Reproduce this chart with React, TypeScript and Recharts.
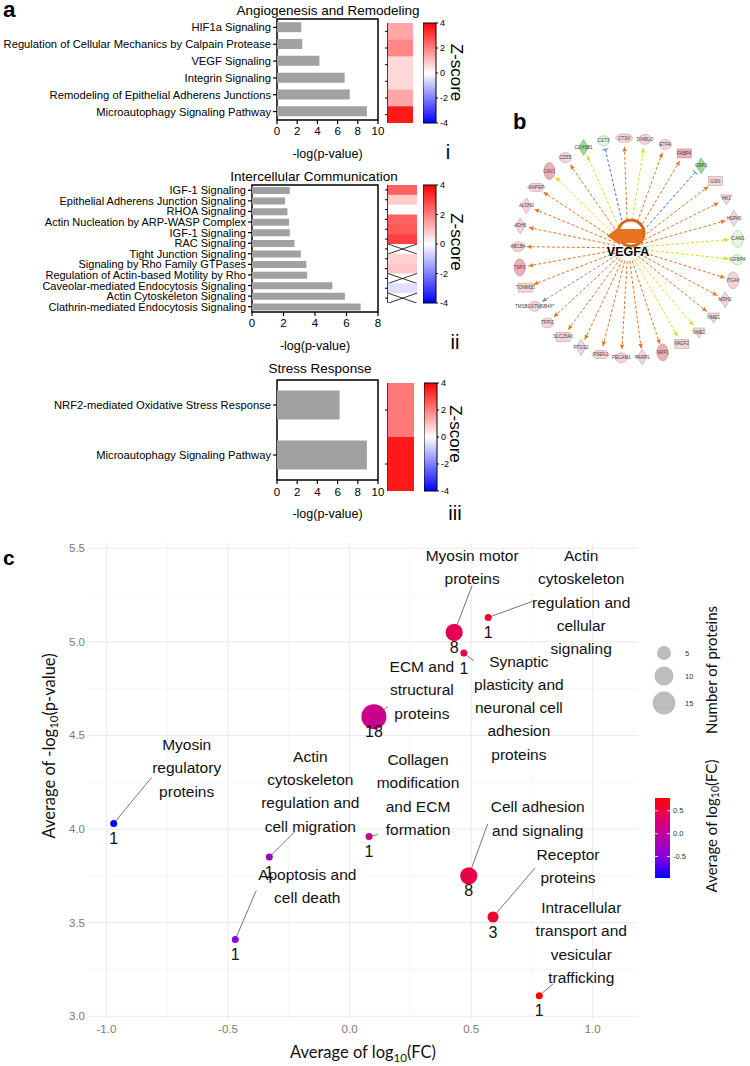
import React from 'react';
import { BarChart, Bar, XAxis, YAxis, ReferenceArea, ReferenceLine, ScatterChart, Scatter } from 'recharts';

const FONT = '"Liberation Sans", Arial, sans-serif';
const TITLE_FONT = 'Lato, "Open Sans", sans-serif';

// ---- panel a (i) angiogenesis
const angioPathways = [
  'HIF1a Signaling',
  'Regulation of Cellular Mechanics by Calpain Protease',
  'VEGF Signaling',
  'Integrin Signaling',
  'Remodeling of Epithelial Adherens Junctions',
  'Microautophagy Signaling Pathway',
];
const angioLogP = [2.4, 2.5, 4.2, 6.7, 7.2, 8.9];
const angioZ = [1.4, 1.9, 0.6, 0.6, 1.4, 3.6];

// ---- panel a (ii) intercellular communication
const commPathways = [
  'IGF-1 Signaling',
  'Epithelial Adherens Junction Signaling',
  'RHOA Signaling',
  'Actin Nucleation by ARP-WASP Complex',
  'IGF-1 Signaling',
  'RAC Signaling',
  'Tight Junction Signaling',
  'Signaling by Rho Family GTPases',
  'Regulation of Actin-based Motility by Rho',
  'Caveolar-mediated Endocytosis Signaling',
  'Actin Cytoskeleton Signaling',
  'Clathrin-mediated Endocytosis Signaling',
];
const commLogP = [2.4, 2.1, 2.25, 2.35, 2.4, 2.7, 3.1, 3.45, 3.5, 5.1, 5.9, 6.9];
const commZ = [2.5, 0.8, 0, 2.5, 2.6, 3.0, null, 0.7, 0.9, null, -0.5, null];

// ---- panel a (iii) stress response
const stressPathways = ['NRF2-mediated Oxidative Stress Response', 'Microautophagy Signaling Pathway'];
const stressLogP = [6.2, 8.9];
const stressZ = [2.1, 3.6];

const zTicks = [-4, -2, 0, 2, 4];

// ---- panel b network
const vegfaTargets = [
  'CTSV', 'DIABLO', 'ETFA', 'FABP4', 'GBP1', 'GSN', 'HK1', 'HSPA5', 'ICAM1', 'IGFBP4', 'ITGAV',
  'MDH2', 'NME1', 'NME2', 'NR2F2', 'NRP1', 'PARP1', 'PECAM1', 'PSEN1', 'PTGS2', 'SLC25A6',
  'TFPI2', 'TMSB10/TMSB4X*', 'TOMM20', 'TSPO', 'ABCB4', 'ADH5', 'ALDH2', 'ANPEP', 'CAV1',
  'CD55', 'COX6B1', 'CST3',
];
const targetTone = [
  'up', 'up', 'up', 'up2', 'down2', 'up', 'up', 'up', 'down', 'down', 'up',
  'up', 'up', 'up', 'up', 'up2', 'up', 'up', 'up', 'up', 'up',
  'up', 'up', 'up', 'up2', 'up', 'up', 'up', 'up', 'up2',
  'up', 'down2', 'down',
];
const targetShape = [
  'hex', 'ellipse', 'ellipse', 'rect', 'diamond', 'rect', 'tri', 'diamond', 'tall', 'ellipse', 'tall',
  'diamond', 'tri', 'tri', 'rect', 'tall', 'diamond', 'ellipse', 'hex', 'diamond', 'rect',
  'ellipse', 'ellipse', 'rect', 'tall', 'ellipse', 'diamond', 'diamond', 'hex', 'tall',
  'ellipse', 'diamond', 'ellipse',
];
const targetEdge = [
  'act', 'neu', 'act', 'act', 'inh', 'act', 'act', 'act', 'neu', 'neu', 'act',
  'act', 'act', 'neu', 'neu', 'act', 'act', 'act', 'act', 'act', 'act',
  'act', 'unk', 'act', 'act', 'act', 'act', 'act', 'act', 'neu',
  'act', 'neu', 'inh',
];

// ---- panel c
const groups = [
  'Myosin regulatory proteins',
  'Apoptosis and cell death',
  'Actin cytoskeleton regulation and cell migration',
  'Collagen modification and ECM formation',
  'ECM and structural proteins',
  'Myosin motor proteins',
  'Actin cytoskeleton regulation and cellular signaling',
  'Synaptic plasticity and neuronal cell adhesion proteins',
  'Cell adhesion and signaling',
  'Receptor proteins',
  'Intracellular transport and vesicular trafficking',
];
const groupLogFC = [-0.97, -0.47, -0.33, 0.08, 0.1, 0.43, 0.57, 0.47, 0.49, 0.59, 0.78];
const groupLogP = [4.03, 3.41, 3.85, 3.96, 4.6, 5.05, 5.13, 4.94, 3.75, 3.53, 3.11];
const groupCount = [1, 1, 1, 1, 18, 8, 1, 1, 8, 3, 1];
const fcTicks = [-1, -0.5, 0, 0.5, 1];
const fcMinor = [-0.75, -0.25, 0.25, 0.75];
const pTicks = [3, 3.5, 4, 4.5, 5, 5.5];
const pMinor = [3.25, 3.75, 4.25, 4.75, 5.25];
const sizeLegend = [5, 10, 15];
const colorLegend = [0.5, 0, -0.5];

// label placement (pixels relative to the point)
const labelLayout = [
  { lines: ['Myosin', 'regulatory', 'proteins'], dx: 73, dy: -79, ex: 38, ey: -46 },
  { lines: ['Apoptosis and', 'cell death'], dx: 72, dy: -65, ex: 21, ey: -49 },
  { lines: ['Actin', 'cytoskeleton', 'regulation and', 'cell migration'], dx: 41, dy: -101, ex: 25, ey: -25 },
  { lines: ['Collagen', 'modification', 'and ECM', 'formation'], dx: 49, dy: -77, ex: 9, ey: -2 },
  { lines: ['ECM and', 'structural', 'proteins'], dx: 48, dy: -50, ex: 14, ey: -10 },
  { lines: ['Myosin motor', 'proteins'], dx: 18, dy: -77, ex: 18, ey: -47 },
  { lines: ['Actin', 'cytoskeleton', 'regulation and', 'cellular', 'signaling'], dx: 93, dy: -62, ex: 44, ey: -16 },
  { lines: ['Synaptic', 'plasticity and', 'neuronal cell', 'adhesion', 'proteins'], dx: 55, dy: 8, ex: 10, ey: 8 },
  { lines: ['Cell adhesion', 'and signaling'], dx: 69, dy: -69, ex: 19, ey: -52 },
  { lines: ['Receptor', 'proteins'], dx: 75, dy: -63, ex: 42, ey: -49 },
  { lines: ['Intracellular', 'transport and', 'vesicular', 'trafficking'], dx: 42, dy: -88, ex: 14, ey: -12 },
];

const zColor = (z: number) => {
  const t = Math.min(Math.abs(z) / 4, 1);
  const c = Math.round(255 * (1 - t));
  return z >= 0 ? `rgb(255,${c},${c})` : `rgb(${c},${c},255)`;
};

const fcStops: [number, number[]][] = [
  [0, [0, 0, 255]],
  [0.25, [128, 0, 221]],
  [0.5, [184, 0, 168]],
  [0.75, [224, 0, 106]],
  [1, [255, 0, 0]],
];
const fcMin = Math.min(...groupLogFC);
const fcMax = Math.max(...groupLogFC);
const rampColor = (t: number) => {
  t = Math.max(0, Math.min(1, t));
  for (let i = 1; i < fcStops.length; i++) {
    const [t1, c1] = fcStops[i];
    const [t0, c0] = fcStops[i - 1];
    if (t <= t1) {
      const f = (t - t0) / (t1 - t0);
      const c = c0.map((v, k) => Math.round(v + (c1[k] - v) * f));
      return `rgb(${c[0]},${c[1]},${c[2]})`;
    }
  }
  return 'rgb(255,0,0)';
};
const fcColor = (v: number) => rampColor((v - fcMin) / (fcMax - fcMin));
const radiusFor = (n: number) => 0.72 + 2.78 * Math.sqrt(n);

// ------------------------------------------------------------ panel a
function PathwayBars(props: any) {
  const { names, logP, max, top, height, plotTop, axisWidth, xAxisHeight, fontSize, gap, tickGap, labelOffset } = props;
  const rows = names.map((n: string, i: number) => ({ row: i, logP: logP[i] }));
  const ticks: number[] = [];
  for (let t = 0; t <= max; t += 2) ticks.push(t);
  const NameTick = (p: any) => (
    <text x={p.x} y={p.y} textAnchor="end" dominantBaseline="central" fontSize={fontSize} fontFamily={FONT} fill="#000">
      {names[p.payload.value]}
    </text>
  );
  return (
    <div style={{ position: 'absolute', left: 0, top, width: 385, height }}>
      <BarChart width={385} height={height} data={rows} layout="vertical" barCategoryGap={gap}
        margin={{ top: plotTop, right: 7, left: 0, bottom: 0 }}>
        <XAxis type="number" domain={[0, max]} ticks={ticks} height={xAxisHeight} tickSize={4} tickMargin={tickGap}
          axisLine={false} tickLine={{ stroke: '#000', strokeWidth: 1.2 }}
          tick={{ fill: '#000', fontSize: 11.5, fontFamily: FONT }}
          label={{ value: '-log(p-value)', position: 'insideBottom', offset: labelOffset, fill: '#000', fontSize: 12.5, fontFamily: FONT }} />
        <YAxis type="category" dataKey="row" width={axisWidth} interval={0} tickSize={4} tickMargin={2}
          axisLine={false} tickLine={{ stroke: '#000', strokeWidth: 1.2 }} tick={NameTick} />
        <Bar dataKey="logP" fill="#a1a1a4" isAnimationActive={false} />
        <ReferenceArea x1={0} x2={max} fill="none" stroke="#000" strokeWidth={1.5} ifOverflow="visible" />
      </BarChart>
    </div>
  );
}

function HeatCell(p: any) {
  const { x, y, width, height, payload } = p;
  if (payload.z === null || payload.z === undefined) {
    return (
      <g>
        <rect x={x} y={y} width={width} height={height} fill="#fff" />
        <line x1={x} y1={y} x2={x + width} y2={y + height} stroke="#000" strokeWidth={0.8} />
        <line x1={x} y1={y + height} x2={x + width} y2={y} stroke="#000" strokeWidth={0.8} />
      </g>
    );
  }
  return <rect x={x} y={y} width={width} height={height + 0.5} fill={zColor(payload.z)} />;
}

function ZHeat({ z, top, height, width }: any) {
  const rows = z.map((v: number | null, i: number) => ({ row: i, z: v, span: 1 }));
  return (
    <div style={{ position: 'absolute', left: 384, top, width: width + 4, height }}>
      <BarChart width={width + 4} height={height} data={rows} layout="vertical" barCategoryGap={0}
        margin={{ top: 0, right: 0, left: 0, bottom: 0 }}>
        <XAxis type="number" domain={[0, 1]} hide />
        <YAxis type="category" dataKey="row" width={4} interval={0} tickSize={3} tickMargin={0}
          axisLine={false} tickLine={{ stroke: '#000', strokeWidth: 1 }} tick={() => <g />} />
        <Bar dataKey="span" shape={HeatCell} isAnimationActive={false} />
        <ReferenceArea x1={0} x2={1} fill="none" stroke="#000" strokeWidth={1.5} ifOverflow="visible" />
      </BarChart>
    </div>
  );
}

function ZBar({ id, top, height, left }: any) {
  return (
    <div style={{ position: 'absolute', left, top: top - 6, width: 32, height: height + 12 }}>
      <BarChart width={32} height={height + 12} data={[{ k: 'z', range: [-4, 4] }]} barCategoryGap={0}
        margin={{ top: 6, bottom: 6, left: 0, right: 0 }}>
        <defs>
          <linearGradient id={id} x1="0" y1="0" x2="0" y2="1">
            <stop offset="0" stopColor="#ff0000" />
            <stop offset="0.5" stopColor="#ffffff" />
            <stop offset="1" stopColor="#0000ff" />
          </linearGradient>
        </defs>
        <XAxis dataKey="k" hide />
        <YAxis orientation="right" type="number" domain={[-4, 4]} ticks={zTicks} width={19} tickSize={2} tickMargin={2}
          axisLine={false} tickLine={{ stroke: '#000' }} tick={{ fontSize: 9, fill: '#000', fontFamily: FONT }} />
        <Bar dataKey="range" fill={`url(#${id})`} stroke="#000" strokeWidth={1} isAnimationActive={false} />
      </BarChart>
    </div>
  );
}

// ------------------------------------------------------------ panel b
const toneFill: any = { up: '#f6d5d8', up2: '#eeaeb5', down: '#e5f6e3', down2: '#9ddb96' };
const toneStroke: any = { up: '#b9a3a6', up2: '#c28c92', down: '#8fc98a', down2: '#6fb56a' };
const edgeColor: any = { act: '#e8731f', neu: '#dcdc1e', inh: '#3a72d6', unk: '#8c8c8c' };

function NodeShape(p: any) {
  const { cx, cy, payload } = p;
  const f = toneFill[payload.tone];
  const s = toneStroke[payload.tone];
  let body;
  switch (payload.shape) {
    case 'tall':
      body = <ellipse cx={cx} cy={cy} rx={5.5} ry={8.5} fill={f} stroke={s} strokeWidth={0.6} />;
      break;
    case 'diamond':
      body = <polygon points={`${cx},${cy - 8} ${cx + 5},${cy} ${cx},${cy + 8} ${cx - 5},${cy}`} fill={f} stroke={s} strokeWidth={0.6} />;
      break;
    case 'rect':
      body = <rect x={cx - 7} y={cy - 4.5} width={14} height={9} fill={f} stroke={s} strokeWidth={0.6} />;
      break;
    case 'tri':
      body = <polygon points={`${cx - 6},${cy - 4} ${cx + 6},${cy - 4} ${cx},${cy + 6}`} fill={f} stroke={s} strokeWidth={0.6} />;
      break;
    case 'hex':
      body = <polygon points={`${cx - 9},${cy} ${cx - 5},${cy - 4} ${cx + 5},${cy - 4} ${cx + 9},${cy} ${cx + 5},${cy + 4} ${cx - 5},${cy + 4}`} fill={f} stroke={s} strokeWidth={0.6} />;
      break;
    default:
      body = <ellipse cx={cx} cy={cy} rx={6} ry={5} fill={f} stroke={s} strokeWidth={0.6} />;
  }
  return (
    <g>
      {body}
      <text x={cx} y={cy} textAnchor="middle" dominantBaseline="central" fontSize={4.6} fontFamily={FONT} fill="#444">
        {payload.name}
      </text>
    </g>
  );
}

const edgeShape = (kind: string) => (p: any) => {
  const { x1, y1, x2, y2 } = p;
  const c = edgeColor[kind];
  const dx = x2 - x1;
  const dy = y2 - y1;
  const L = Math.hypot(dx, dy) || 1;
  const ux = dx / L;
  const uy = dy / L;
  const head = kind === 'inh'
    ? <line x1={x2 - uy * 3} y1={y2 + ux * 3} x2={x2 + uy * 3} y2={y2 - ux * 3} stroke={c} strokeWidth={1} />
    : <polygon points={`${x2},${y2} ${x2 - ux * 4.5 - uy * 2.2},${y2 - uy * 4.5 + ux * 2.2} ${x2 - ux * 4.5 + uy * 2.2},${y2 - uy * 4.5 - ux * 2.2}`} fill={c} />;
  return (
    <g>
      <line x1={x1} y1={y1} x2={x2} y2={y2} stroke={c} strokeWidth={1} strokeDasharray="3 2" />
      {head}
    </g>
  );
};

function HubShape(p: any) {
  const { cx, cy } = p;
  const lx = cx + 3;
  const ly = cy - 15;
  const r = 13;
  const a0 = (200 * Math.PI) / 180;
  const a1 = (510 * Math.PI) / 180;
  const arc = `M ${lx + r * Math.cos(a0)} ${ly + r * Math.sin(a0)} A ${r} ${r} 0 1 1 ${lx + r * Math.cos(a1)} ${ly + r * Math.sin(a1)}`;
  return (
    <g>
      <circle cx={lx} cy={ly} r={r} fill="#fff" />
      <path d={arc} fill="none" stroke="#d8651a" strokeWidth={3} />
      <polygon points={`${cx - 21},${cy - 12} ${cx - 8},${cy - 22} ${cx - 8},${cy - 19} ${cx + 15},${cy - 19} ${cx + 15},${cy - 5} ${cx - 8},${cy - 5} ${cx - 8},${cy - 3}`} fill="#e5731f" />
      <text x={cx} y={cy + 8} textAnchor="middle" fontWeight="bold" fontSize={12.5} fontFamily={FONT} fill="#000">VEGFA</text>
    </g>
  );
}

function Network() {
  const n = vegfaTargets.length;
  const nodes = vegfaTargets.map((name, i) => {
    const a = ((92 - (i * 360) / n) * Math.PI) / 180;
    return { name, x: Math.cos(a), y: Math.sin(a), tone: targetTone[i], shape: targetShape[i], edge: targetEdge[i] };
  });
  return (
    <div style={{ position: 'absolute', left: 498, top: 118, width: 260, height: 260 }}>
      <ScatterChart width={260} height={260} margin={{ top: 0, right: 0, bottom: 0, left: 0 }}>
        <XAxis type="number" dataKey="x" domain={[-1.182, 1.182]} allowDataOverflow hide />
        <YAxis type="number" dataKey="y" domain={[-1.182, 1.182]} allowDataOverflow hide />
        {nodes.map((nd) => (
          <ReferenceLine key={nd.name} ifOverflow="visible"
            segment={[{ x: nd.x * 0.12, y: nd.y * 0.12 }, { x: nd.x * 0.92, y: nd.y * 0.92 }]}
            shape={edgeShape(nd.edge)} />
        ))}
        <Scatter data={nodes} shape={NodeShape} isAnimationActive={false} />
        <Scatter data={[{ x: 0, y: 0 }]} shape={HubShape} isAnimationActive={false} />
      </ScatterChart>
    </div>
  );
}

// ------------------------------------------------------------ panel c
function LeaderShape(p: any) {
  const { cx, cy, payload } = p;
  const L = labelLayout[payload.idx];
  return <line x1={cx} y1={cy} x2={cx + L.ex} y2={cy + L.ey} stroke="#3a3a3a" strokeWidth={0.7} />;
}

function DotShape(p: any) {
  const { cx, cy, payload } = p;
  return (
    <g>
      <circle cx={cx} cy={cy} r={radiusFor(payload.n)} fill={fcColor(payload.x)} />
      <text x={cx} y={cy + 15} textAnchor="middle" dominantBaseline="central" fontSize={16} fontFamily={FONT} fill="#111">
        {payload.n}
      </text>
    </g>
  );
}

function LabelShape(p: any) {
  const { cx, cy, payload } = p;
  const L = labelLayout[payload.idx];
  return (
    <g>
      {L.lines.map((s, i) => (
        <text key={i} x={cx + L.dx} y={cy + L.dy + i * 23.3} textAnchor="middle" dominantBaseline="central"
          fontSize={15.5} fontFamily={FONT} fill="#111">
          {s}
        </text>
      ))}
    </g>
  );
}

function GroupScatter() {
  const pts = groups.map((g, i) => ({ name: g, x: groupLogFC[i], y: groupLogP[i], n: groupCount[i], idx: i }));
  return (
    <div style={{ position: 'absolute', left: 0, top: 530, width: 640, height: 536 }}>
      <ScatterChart width={640} height={536} margin={{ top: 12, right: 2, left: 0, bottom: 0 }}>
        <XAxis type="number" dataKey="x" domain={[-1.0756, 1.186]} allowDataOverflow ticks={fcTicks}
          tickFormatter={(v: number) => v.toFixed(1)} height={46} axisLine={false} tickLine={false}
          tickSize={0} tickMargin={5} tick={{ fill: '#7a7a7a', fontSize: 11.5, fontFamily: FONT }} />
        <YAxis type="number" dataKey="y" domain={[2.98, 5.533]} allowDataOverflow ticks={pTicks}
          tickFormatter={(v: number) => v.toFixed(1)} width={88} axisLine={false} tickLine={false}
          tickSize={0} tickMargin={3} tick={{ fill: '#7a7a7a', fontSize: 11.5, fontFamily: FONT }} />
        {fcMinor.map((v) => <ReferenceLine key={'vx' + v} x={v} stroke="#f4f4f4" strokeWidth={0.8} />)}
        {pMinor.map((v) => <ReferenceLine key={'vy' + v} y={v} stroke="#f4f4f4" strokeWidth={0.8} />)}
        {fcTicks.map((v) => <ReferenceLine key={'mx' + v} x={v} stroke="#ebebeb" strokeWidth={1} />)}
        {pTicks.map((v) => <ReferenceLine key={'my' + v} y={v} stroke="#ebebeb" strokeWidth={1} />)}
        <Scatter data={pts} shape={LeaderShape} isAnimationActive={false} />
        <Scatter data={pts} shape={DotShape} isAnimationActive={false} />
        <Scatter data={pts} shape={LabelShape} isAnimationActive={false} />
      </ScatterChart>
    </div>
  );
}

// ------------------------------------------------------------ loose text and legends
function Overlay() {
  const barTop = 798;
  const barH = 80;
  const legendY = (v: number) => barTop + ((fcMax - v) / (fcMax - fcMin)) * barH;
  const sizeY = [653, 676, 703];
  const gradStops = [0, 0.25, 0.5, 0.75, 1];
  return (
    <svg width={750} height={1066} style={{ position: 'absolute', left: 0, top: 0, pointerEvents: 'none' }}>
      <defs>
        <linearGradient id="fcgrad" x1="0" y1="0" x2="0" y2="1">
          {gradStops.map((t) => <stop key={t} offset={t} stopColor={rampColor(1 - t)} />)}
        </linearGradient>
      </defs>
      <g fontFamily={FONT} fill="#000">
        <text x={3} y={17} fontSize={22.5} fontWeight="bold">a</text>
        <text x={513} y={129} fontSize={22} fontWeight="bold">b</text>
        <text x={3} y={565} fontSize={21} fontWeight="bold">c</text>
        <text x={328} y={15} textAnchor="middle" fontSize={13.5}>Angiogenesis and Remodeling</text>
        <text x={314} y={181} textAnchor="middle" fontSize={13.5}>Intercellular Communication</text>
        <text x={320} y={373} textAnchor="middle" fontSize={13.5}>Stress Response</text>
        {[[456, 72.5], [456, 242], [455, 434]].map(([x, y]) => (
          <text key={y} x={x} y={y} fontSize={17} textAnchor="middle" dominantBaseline="central"
            transform={`rotate(90 ${x} ${y})`}>Z-score</text>
        ))}
        <text x={448} y={159} textAnchor="middle" fontSize={20}>i</text>
        <text x={455} y={349} textAnchor="middle" fontSize={20}>ii</text>
        <text x={455} y={520} textAnchor="middle" fontSize={20}>iii</text>
      </g>
      <g fontFamily={TITLE_FONT} fill="#111">
        <text x={49} y={746} fontSize={16.5} textAnchor="middle" dominantBaseline="central" transform="rotate(-90 49 746)">
          Average of -log<tspan fontSize={11.5} dy={4}>10</tspan><tspan dy={-4}>(p-value)</tspan>
        </text>
        <text x={363} y={1058} fontSize={16.5} textAnchor="middle">
          Average of log<tspan fontSize={11.5} dy={4}>10</tspan><tspan dy={-4}>(FC)</tspan>
        </text>
        <text x={711} y={670} fontSize={15} textAnchor="middle" dominantBaseline="central" transform="rotate(-90 711 670)">
          Number of proteins
        </text>
        <text x={711} y={826} fontSize={15} textAnchor="middle" dominantBaseline="central" transform="rotate(-90 711 826)">
          Average of log<tspan fontSize={10.5} dy={3.5}>10</tspan><tspan dy={-3.5}>(FC)</tspan>
        </text>
      </g>
      {sizeLegend.map((v, i) => (
        <g key={v}>
          <circle cx={664} cy={sizeY[i]} r={radiusFor(v)} fill="#bdbdbd" />
          <text x={685} y={sizeY[i]} fontSize={7.5} fontFamily={FONT} fill="#333" dominantBaseline="central">{v}</text>
        </g>
      ))}
      <rect x={655} y={barTop} width={15} height={barH} fill="url(#fcgrad)" />
      {colorLegend.map((v) => (
        <g key={v}>
          <line x1={655} x2={658} y1={legendY(v)} y2={legendY(v)} stroke="#fff" strokeWidth={0.8} />
          <line x1={667} x2={670} y1={legendY(v)} y2={legendY(v)} stroke="#fff" strokeWidth={0.8} />
          <text x={673} y={legendY(v)} fontSize={7.5} fontFamily={FONT} fill="#333" dominantBaseline="central">{v.toFixed(1)}</text>
        </g>
      ))}
    </svg>
  );
}

export default function App() {
  return (
    <div style={{ position: 'absolute', left: 0, top: 0, width: 750, height: 1066, background: '#fff', overflow: 'hidden' }}>
      <PathwayBars names={angioPathways} logP={angioLogP} max={10} top={0} height={165} plotTop={19} axisWidth={277}
        xAxisHeight={45} fontSize={11.2} gap="19%" tickGap={3} labelOffset={7.5} />
      <ZHeat z={angioZ} top={23} height={100} width={25} />
      <ZBar id="zg1" top={23} height={100} left={423} />
      <PathwayBars names={commPathways} logP={commLogP} max={8} top={160} height={195} plotTop={25} axisWidth={252}
        xAxisHeight={43} fontSize={11} gap="19%" tickGap={2.5} labelOffset={5.5} />
      <ZHeat z={commZ} top={185} height={118} width={29} />
      <ZBar id="zg2" top={185} height={118} left={423} />
      <PathwayBars names={stressPathways} logP={stressLogP} max={10} top={340} height={185} plotTop={40} axisWidth={277}
        xAxisHeight={45} fontSize={11.2} gap="21%" tickGap={4} labelOffset={7.5} />
      <ZHeat z={stressZ} top={383} height={108} width={26} />
      <ZBar id="zg3" top={383} height={108} left={424} />
      <Network />
      <GroupScatter />
      <Overlay />
    </div>
  );
}
